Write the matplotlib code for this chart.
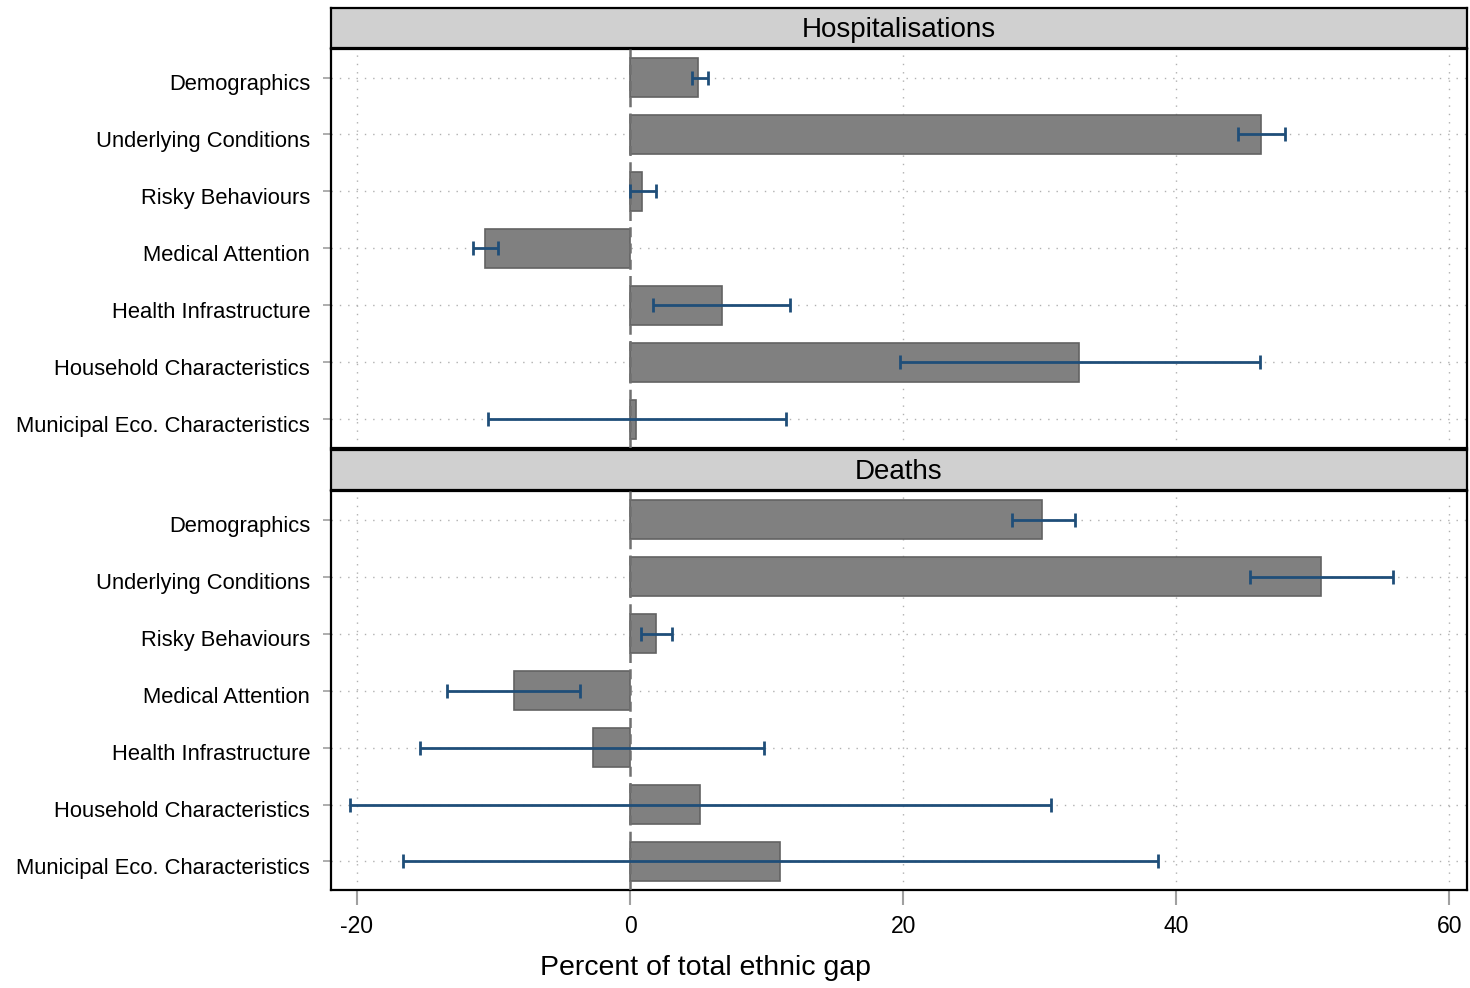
import matplotlib.pyplot as plt
import matplotlib.transforms as mtransforms
import numpy as np

plt.rcParams['font.family'] = ['Liberation Sans', 'DejaVu Sans']

# Components of the ethnic gap, top row first
categories = ['Demographics', 'Underlying Conditions', 'Risky Behaviours',
              'Medical Attention', 'Health Infrastructure',
              'Household Characteristics', 'Municipal Eco. Characteristics']

# Hospitalisations: point estimate and 95% CI
hosp_est = [5.0, 46.2, 0.9, -10.6, 6.7, 32.9, 0.4]
hosp_lo = [4.5, 44.5, 0.0, -11.5, 1.7, 19.8, -10.4]
hosp_hi = [5.7, 48.0, 1.9, -9.7, 11.7, 46.1, 11.4]

# Deaths: point estimate and 95% CI
death_est = [30.2, 50.6, 1.9, -8.5, -2.7, 5.1, 11.0]
death_lo = [28.0, 45.4, 0.8, -13.4, -15.4, -20.5, -16.6]
death_hi = [32.6, 55.9, 3.1, -3.7, 9.8, 30.8, 38.7]

panels = [('Hospitalisations', hosp_est, hosp_lo, hosp_hi),
          ('Deaths', death_est, death_lo, death_hi)]

xticks = [-20, 0, 20, 40, 60]

fig = plt.figure(figsize=(14.7, 9.88), dpi=100)

left, width = 0.2252, 0.7728
ax_bottoms = [0.5466, 0.0992]
hdr_bottoms = [0.9514, 0.5040]
ax_h, hdr_h = 0.4038, 0.0405

y = np.arange(len(categories))

for i, (title, est, lo, hi) in enumerate(panels):
    # grey title strip
    hdr = fig.add_axes([left, hdr_bottoms[i], width, hdr_h])
    hdr.set_facecolor('#d0d0d0')
    hdr.set_xticks([])
    hdr.set_yticks([])
    for s in hdr.spines.values():
        s.set_linewidth(1.6)
        s.set_color('black')
    hdr.text(0.5, 0.46, title, ha='center', va='center', fontsize=20,
             transform=hdr.transAxes)

    ax = fig.add_axes([left, ax_bottoms[i], width, ax_h])
    est = np.array(est)
    lo = np.array(lo)
    hi = np.array(hi)

    # dotted grid
    for yy in y:
        ax.axhline(yy, color='#b0b0b0', lw=1.0, ls=(0, (1, 5)), zorder=0)
    for xx in xticks:
        if xx != 0:
            ax.axvline(xx, color='#b0b0b0', lw=1.0, ls=(0, (1, 5)), zorder=0)

    ax.barh(y, est, height=0.68, color='#808080', edgecolor='#626262',
            linewidth=1.2, zorder=2)
    ax.axvline(0, color='#707070', lw=1.8, ls=(0, (4, 2.5)), zorder=3)
    ax.errorbar((lo + hi) / 2, y, xerr=(hi - lo) / 2, fmt='none',
                ecolor='#1f4e79', elinewidth=2.0, capsize=5, capthick=2.0,
                zorder=4)

    ax.set_xlim(-21.9, 61.3)
    ax.set_ylim(6.5, -0.5)
    ax.set_yticks(y)
    ax.set_yticklabels(categories, fontsize=15.8)
    ax.tick_params(axis='y', length=6, color='#a0a0a0', width=1.2, pad=9)
    # nudge category labels slightly downward
    shift = mtransforms.ScaledTranslation(0, -3 / 72, fig.dpi_scale_trans)
    for lab in ax.get_yticklabels():
        lab.set_transform(lab.get_transform() + shift)
    ax.set_xticks(xticks)
    if i == 1:
        ax.set_xticklabels([str(t) for t in xticks], fontsize=16.5)
        ax.tick_params(axis='x', length=11, color='#a0a0a0', width=1.5, pad=7)
    else:
        ax.tick_params(axis='x', length=0, labelbottom=False)
    for s in ax.spines.values():
        s.set_linewidth(1.6)
        s.set_color('black')

fig.text(705 / 1470, 1 - 968 / 988, 'Percent of total ethnic gap',
         ha='center', va='center', fontsize=20.5)

fig.savefig('out.png', dpi=100)
